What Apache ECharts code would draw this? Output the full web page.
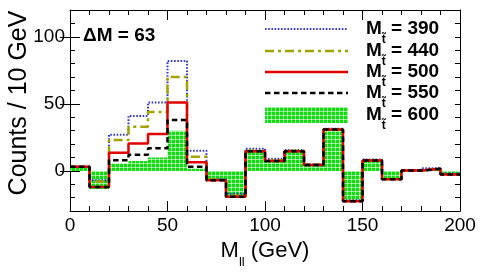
<!DOCTYPE html>
<html>
<head>
<meta charset="utf-8">
<script src="https://cdn.jsdelivr.net/npm/echarts@6/dist/echarts.min.js"></script>
<style>html,body{margin:0;padding:0;background:#fff}#c{width:485px;height:274px}</style>
</head>
<body>
<div id="c"></div>
<script>
// ---- data ----
var binEdges = [0,10,20,30,40,50,60,70,80,90,100,110,120,130,140,150,160,170,180,190,200];
var m390 = [3, -7, 27, 41, 51, 82, 15, -6, -17, 16.5, 9, 15.5, 5, 31.5, -22, 8.5, -6, 0.5, 2, -2];
var m440 = [3, -8, 23, 33, 44, 70, 10.5, -6.5, -18.5, 15, 8, 15, 4.5, 31, -22.5, 8, -6, 0.3, 1.5, -2.5];
var m500 = [3, -12, 13.5, 20.5, 27.5, 51, 6.5, -7, -19.3, 14.6, 7.4, 14.6, 4.4, 30.9, -22.7, 7.7, -6.2, 0.2, 1.5, -2.7];
var m550 = [3, -12, 8, 12, 16.8, 38, 3, -7, -19.3, 14.6, 7.4, 14.6, 4.4, 30.9, -22.7, 7.7, -6.2, 0.2, 1.5, -2.7];
var m600 = [3, -13.5, 5.5, 7.4, 10, 30, 1.5, -7, -19.3, 14.6, 7.4, 14.6, 4.4, 30.9, -22.7, 7.7, -6.2, 0.2, 1.5, -2.7];
var seriesNames = ['390', '440', '500', '550', '600'];
var xTickLabels = [0, 50, 100, 150, 200];
var yTickLabels = [0, 50, 100];

function histData(vals) {
  var d = [];
  for (var i = 0; i < vals.length; i++) d.push([binEdges[i], vals[i]]);
  d.push([binEdges[vals.length], vals[vals.length - 1]]);
  return d;
}

// green dotted fill pattern
var pc = document.createElement('canvas');
pc.width = 4; pc.height = 4;
var pctx = pc.getContext('2d');
pctx.fillStyle = '#10dc10'; pctx.fillRect(0, 0, 4, 4);
pctx.fillStyle = 'rgba(255,255,255,0.55)';
pctx.fillRect(3, 0, 1, 4); pctx.fillRect(0, 3, 4, 1);
var greenPattern = { image: pc, repeat: 'repeat' };

var FONT = 'Liberation Sans, Arial, Helvetica, sans-serif';
var colors = { b: '#3338c8', o: '#a3a300', r: '#e00000', k: '#000000', g: '#10dc10' };

var axisCommon = { min: -30, max: 120, interval: 10, splitLine: { show: false } };

var chart = echarts.init(document.getElementById('c'), null, { renderer: 'canvas' });

var legendRows = [29, 51, 72, 93, 115];
var graphics = [];
var lineStyles = [
  { stroke: colors.b, lineWidth: 2, lineDash: [1.6, 1.6] },
  { stroke: colors.o, lineWidth: 2.5, lineDash: [9, 4, 3, 4] },
  { stroke: colors.r, lineWidth: 2.5 },
  { stroke: colors.k, lineWidth: 2.5, lineDash: [5.5, 3.5] }
];
for (var i = 0; i < 4; i++) {
  graphics.push({ type: 'line', shape: { x1: 265, y1: legendRows[i], x2: 348, y2: legendRows[i] }, style: lineStyles[i] });
}
graphics.push({ type: 'rect', shape: { x: 265, y: 107, width: 83, height: 16 }, style: { fill: greenPattern } });
for (var j = 0; j < 5; j++) {
  graphics.push({
    type: 'text', x: 366, y: legendRows[j] - 10,
    style: {
      text: '{m|M}{s|t\u0303}{m| = ' + seriesNames[j] + '}',
      textVerticalAlign: 'top',
      rich: {
        m: { fontFamily: FONT, fontSize: 19, fontWeight: 'bold', lineHeight: 20, verticalAlign: 'top', fill: '#000' },
        s: { fontFamily: FONT, fontSize: 12, fontWeight: 'bold', lineHeight: 27, verticalAlign: 'bottom', fill: '#000' }
      }
    }
  });
}
graphics.push({
  type: 'text', x: 19, y: 103, rotation: Math.PI / 2,
  style: { text: 'Counts / 10 GeV', fontFamily: FONT, fontSize: 25, fill: '#000', textAlign: 'center', textVerticalAlign: 'middle' }
});

var option = {
  animation: false,
  backgroundColor: '#fff',
  title: { text: '\u0394M = 63', left: 83, top: 26, padding: 0,
    textStyle: { fontFamily: FONT, fontSize: 19, fontWeight: 'bold', color: '#000' } },
  grid: { left: 70, right: 25, top: 10, bottom: 60, containLabel: false },
  xAxis: [
    { type: 'value', position: 'bottom', min: 0, max: 200, interval: 50,
      axisLine: { show: true, onZero: false, lineStyle: { color: '#000', width: 1 } },
      axisTick: { show: true, inside: true, length: 10, lineStyle: { color: '#000' } },
      minorTick: { show: true, splitNumber: 5, length: 5, lineStyle: { color: '#000' } },
      axisLabel: { fontFamily: FONT, fontSize: 19, color: '#000', margin: 5,
        formatter: function (v) { return xTickLabels.indexOf(v) >= 0 ? String(v) : ''; } },
      splitLine: { show: false },
      name: '{a|M}{b|ll}{a| (GeV)}', nameLocation: 'middle', nameGap: 22,
      nameTextStyle: { rich: {
        a: { fontFamily: FONT, fontSize: 22, color: '#000', lineHeight: 24, verticalAlign: 'top' },
        b: { fontFamily: FONT, fontSize: 13, color: '#000', lineHeight: 29, verticalAlign: 'bottom' } } } },
    { type: 'value', position: 'top', min: 0, max: 200, interval: 50,
      axisLine: { show: true, onZero: false, lineStyle: { color: '#000', width: 1 } },
      axisTick: { show: true, inside: true, length: 10, lineStyle: { color: '#000' } },
      minorTick: { show: true, splitNumber: 5, length: 5, lineStyle: { color: '#000' } },
      axisLabel: { show: false }, splitLine: { show: false } }
  ],
  yAxis: [
    Object.assign({ type: 'value', position: 'left',
      axisLine: { show: true, onZero: false, lineStyle: { color: '#000', width: 1 } },
      axisTick: { show: true, inside: true, length: 5, lineStyle: { color: '#000' } },
      axisLabel: { customValues: yTickLabels, fontFamily: FONT, fontSize: 19, color: '#000', margin: 5,
        formatter: function (v) { return yTickLabels.indexOf(v) >= 0 ? String(v) : ''; } } }, axisCommon),
    Object.assign({ type: 'value', position: 'left',
      axisLine: { show: false },
      axisTick: { show: true, inside: true, length: 10, customValues: yTickLabels, lineStyle: { color: '#000' } },
      axisLabel: { show: false } }, axisCommon),
    Object.assign({ type: 'value', position: 'right',
      axisLine: { show: true, onZero: false, lineStyle: { color: '#000', width: 1 } },
      axisTick: { show: true, inside: true, length: 5, lineStyle: { color: '#000' } },
      axisLabel: { show: false } }, axisCommon),
    Object.assign({ type: 'value', position: 'right',
      axisLine: { show: false },
      axisTick: { show: true, inside: true, length: 10, customValues: yTickLabels, lineStyle: { color: '#000' } },
      axisLabel: { show: false } }, axisCommon)
  ],
  series: [
    { name: '600', type: 'line', step: 'end', data: histData(m600), symbol: 'none',
      lineStyle: { width: 0, color: colors.g }, areaStyle: { color: greenPattern, opacity: 1 }, z: 1 },
    { name: '390', type: 'line', step: 'end', data: histData(m390), symbol: 'none',
      lineStyle: { width: 2, color: colors.b, type: [1.6, 1.6] }, z: 2 },
    { name: '440', type: 'line', step: 'end', data: histData(m440), symbol: 'none',
      lineStyle: { width: 2.5, color: colors.o, type: [9, 4, 3, 4] }, z: 3 },
    { name: '500', type: 'line', step: 'end', data: histData(m500), symbol: 'none',
      lineStyle: { width: 2.5, color: colors.r }, z: 4 },
    { name: '550', type: 'line', step: 'end', data: histData(m550), symbol: 'none',
      lineStyle: { width: 2.5, color: colors.k, type: [5.5, 3.5] }, z: 5 }
  ],
  graphic: graphics
};
chart.setOption(option);
</script>
</body>
</html>
